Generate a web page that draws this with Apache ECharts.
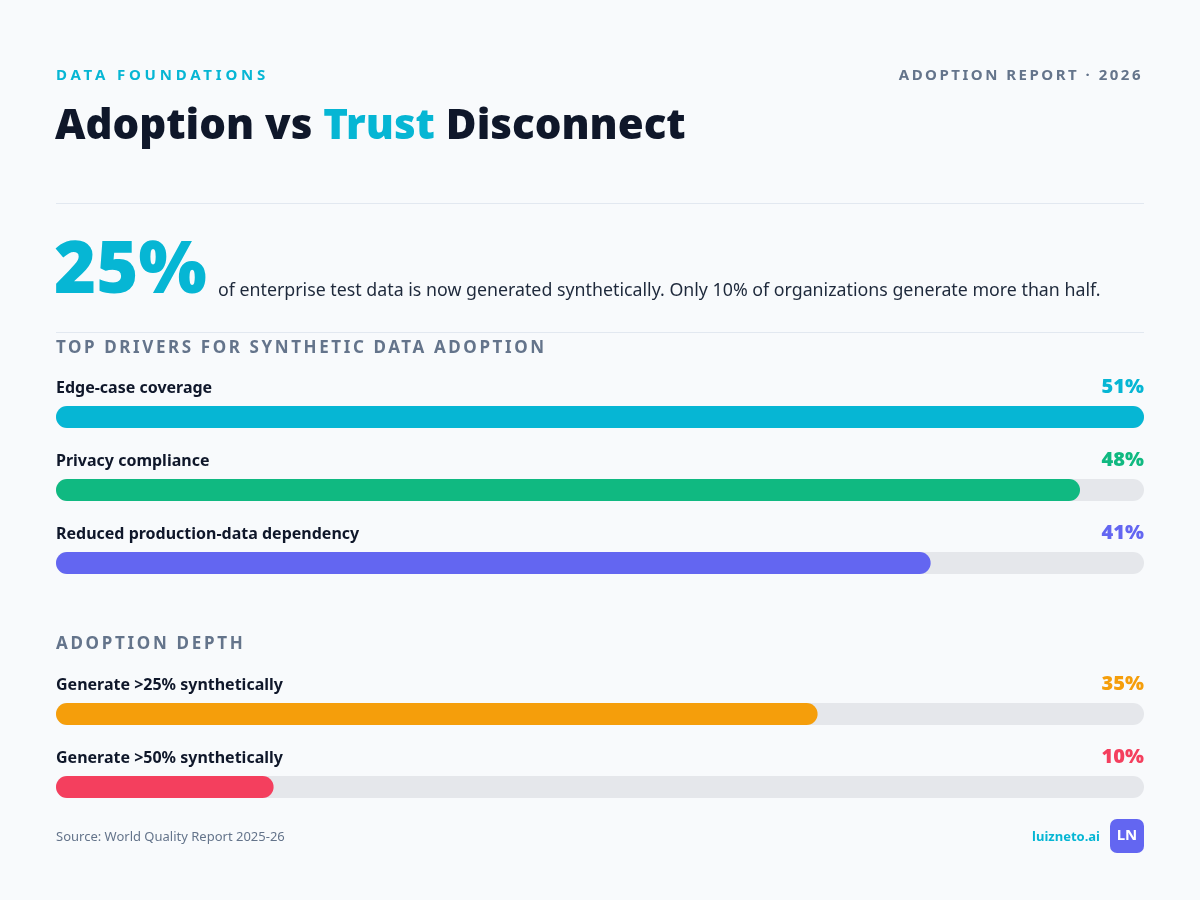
<!DOCTYPE html>
<html>
<head>
<meta charset="utf-8">
<script src="https://cdn.jsdelivr.net/npm/echarts@6/dist/echarts.min.js"></script>
<style>
  html,body{margin:0;padding:0;background:#f8fafc;}
  #main{width:1200px;height:900px;}
</style>
</head>
<body>
<div id="main"></div>
<script>
// data
let driverNames = ['Edge-case coverage','Privacy compliance','Reduced production-data dependency'];
let driverValues = [51,48,41];
let driverColors = ['#06b6d4','#10b981','#6366f1'];
let driverMax = 51;

let depthNames = ['Generate >25% synthetically','Generate >50% synthetically'];
let depthValues = [35,10];
let depthColors = ['#f59e0b','#f43f5e'];
let depthMax = 50;

let headline = '25%';
let headlineText = 'of enterprise test data is now generated synthetically. Only 10% of organizations generate more than half.';

// letter spacing for the small caps headings (canvas supports it, echarts doesn't expose it)
const spaced = {
  'DATA FOUNDATIONS':'3.8px',
  'ADOPTION REPORT · 2026':'2.5px',
  'TOP DRIVERS FOR SYNTHETIC DATA ADOPTION':'2.6px',
  'ADOPTION DEPTH':'2.7px'
};
const _fill = CanvasRenderingContext2D.prototype.fillText;
CanvasRenderingContext2D.prototype.fillText = function(t,x,y,w){
  let ls = spaced[t];
  if(ls && 'letterSpacing' in this){
    this.save();
    this.letterSpacing = ls;
    _fill.call(this,t,x,y);
    this.letterSpacing = '0px';
    this.restore();
    this.font = this.font;
    return;
  }
  return w === undefined ? _fill.call(this,t,x,y) : _fill.call(this,t,x,y,w);
};

const FONT = '"Noto Sans", "Open Sans", sans-serif';

function barSeries(names, values, colors, max, idx){
  let track = {
    type:'bar', xAxisIndex:idx, yAxisIndex:idx,
    barWidth:22, barGap:'-100%', silent:true, z:1,
    itemStyle:{color:'#e5e7eb', borderRadius:11},
    label:{
      show:true, position:[0,-18], align:'left', verticalAlign:'middle',
      formatter:(p)=>names[p.dataIndex],
      fontFamily:FONT, fontSize:16, fontWeight:'bold', color:'#0f172a'
    },
    data:names.map(()=>max)
  };
  let fill = {
    type:'bar', xAxisIndex:idx, yAxisIndex:idx,
    barWidth:22, barGap:'-100%', silent:true, z:2,
    data:values.map((v,i)=>({value:v, itemStyle:{color:colors[i], borderRadius:11}}))
  };
  let pct = {
    type:'bar', xAxisIndex:idx, yAxisIndex:idx,
    barWidth:22, barGap:'-100%', silent:true, z:3,
    itemStyle:{color:'rgba(0,0,0,0)'},
    data:values.map((v,i)=>({
      value:max,
      label:{
        show:true, position:['100%',-19], align:'right', verticalAlign:'middle',
        formatter:v + '%', fontFamily:FONT, fontSize:20, fontWeight:900, color:colors[i]
      }
    }))
  };
  return [track, fill, pct];
}

let chart = echarts.init(document.getElementById('main'));
chart.setOption({
  backgroundColor:'#f8fafc',
  animation:false,
  grid:[
    {left:56, right:56, top:380.5, height:219},
    {left:56, right:56, top:677.5, height:146}
  ],
  xAxis:[
    {type:'value', gridIndex:0, min:0, max:driverMax, show:false},
    {type:'value', gridIndex:1, min:0, max:depthMax, show:false}
  ],
  yAxis:[
    {type:'category', gridIndex:0, data:driverNames, inverse:true, show:false},
    {type:'category', gridIndex:1, data:depthNames, inverse:true, show:false}
  ],
  series:[
    ...barSeries(driverNames, driverValues, driverColors, driverMax, 0),
    ...barSeries(depthNames, depthValues, depthColors, depthMax, 1)
  ],
  graphic:[
    {type:'text', left:56, top:68, style:{
      text:'DATA FOUNDATIONS', font:'bold 15px ' + FONT, fill:'#06b6d4'}},
    {type:'text', right:57, top:68, style:{
      text:'ADOPTION REPORT · 2026', font:'bold 15px ' + FONT, fill:'#64748b', textAlign:'right'}},
    {type:'text', left:55, top:106, style:{
      text:'{a|Adoption vs }{b|Trust}{a| Disconnect}',
      rich:{
        a:{font:'900 42px ' + FONT, fill:'#0f172a'},
        b:{font:'900 42px ' + FONT, fill:'#06b6d4'}
      }}},
    {type:'line', shape:{x1:56, y1:203.5, x2:1144, y2:203.5}, style:{stroke:'#e2e8f0', lineWidth:1}},
    {type:'text', left:54, top:236, style:{
      text:headline, font:'900 72px ' + FONT, fill:'#06b6d4'}},
    {type:'text', left:218, top:282, style:{
      text:headlineText, font:'17.8px ' + FONT, fill:'#1e293b'}},
    {type:'line', shape:{x1:56, y1:332.5, x2:1144, y2:332.5}, style:{stroke:'#e2e8f0', lineWidth:1}},
    {type:'text', left:56, top:340, style:{
      text:'TOP DRIVERS FOR SYNTHETIC DATA ADOPTION', font:'bold 17px ' + FONT, fill:'#64748b'}},
    {type:'text', left:56, top:636, style:{
      text:'ADOPTION DEPTH', font:'bold 17px ' + FONT, fill:'#64748b'}},
    {type:'text', left:56, top:831, style:{
      text:'Source: World Quality Report 2025-26', font:'13px ' + FONT, fill:'#64748b'}},
    {type:'text', right:100, top:831, style:{
      text:'luizneto.ai', font:'bold 13px ' + FONT, fill:'#06b6d4', textAlign:'right'}},
    {type:'rect', shape:{x:1110, y:819, width:34, height:34, r:7}, style:{fill:'#6366f1'}},
    {type:'text', x:1127, y:836, style:{
      text:'LN', font:'bold 15px ' + FONT, fill:'#ffffff', textAlign:'center', textVerticalAlign:'middle'}}
  ]
});
</script>
</body>
</html>
